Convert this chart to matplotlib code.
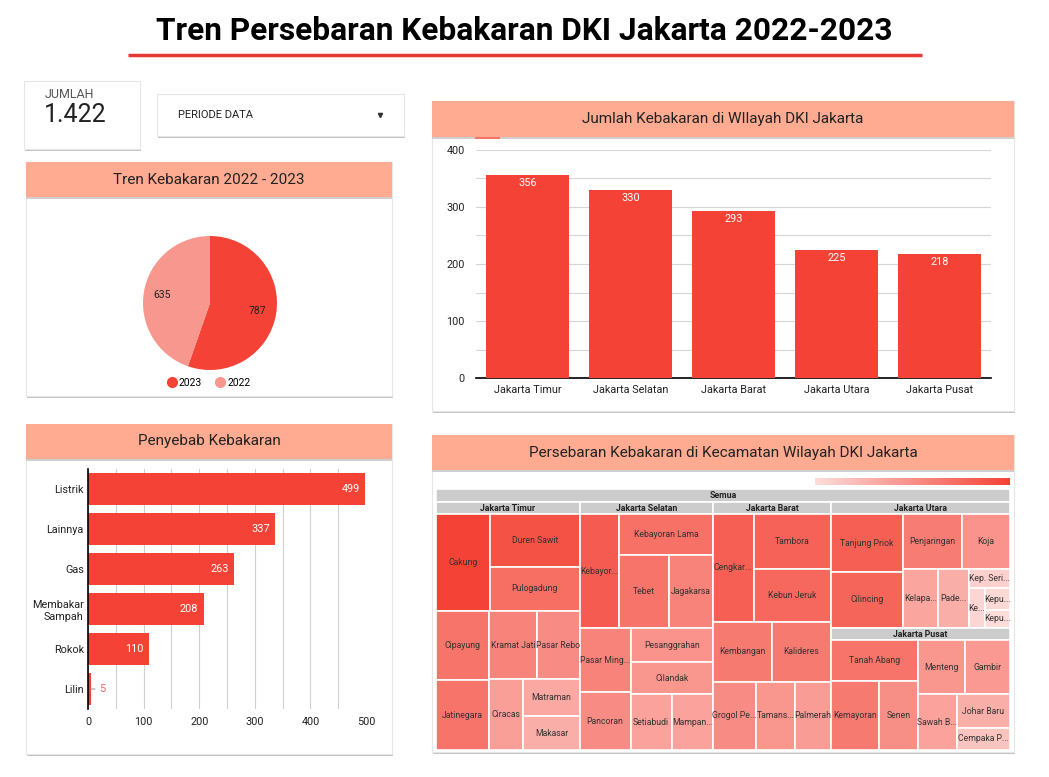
import numpy as np
import matplotlib
matplotlib.use("Agg")
import matplotlib.pyplot as plt
from matplotlib.patches import Rectangle
from matplotlib.lines import Line2D
from matplotlib.colors import LinearSegmentedColormap, Normalize

plt.rcParams['font.family'] = ['Roboto', 'DejaVu Sans']

# ---- data ----
judul = 'Tren Persebaran Kebakaran DKI Jakarta 2022-2023'
jumlah_total = '1.422'

tahun = ['2023', '2022']
jumlah_tahun = [787, 635]

wilayah = ['Jakarta Timur', 'Jakarta Selatan', 'Jakarta Barat', 'Jakarta Utara', 'Jakarta Pusat']
jumlah_wilayah = [356, 330, 293, 225, 218]

penyebab = ['Listrik', 'Lainnya', 'Gas', 'Membakar\nSampah', 'Rokok', 'Lilin']
jumlah_penyebab = [499, 337, 263, 208, 110, 5]

kec_timur = ['Cakung', 'Duren Sawit', 'Pulogadung', 'Cipayung', 'Jatinegara', 'Kramat Jati',
             'Pasar Rebo', 'Ciracas', 'Matraman', 'Makasar']
val_timur = [55, 50, 41, 39, 39, 34, 31, 25, 22, 20]
kec_selatan = ['Kebayoran Baru', 'Kebayoran Lama', 'Tebet', 'Jagakarsa', 'Pasar Minggu', 'Pancoran',
               'Pesanggrahan', 'Cilandak', 'Setiabudi', 'Mampang Prapatan']
val_selatan = [47, 40, 39, 34, 34, 31, 29, 28, 24, 24]
kec_barat = ['Cengkareng', 'Tambora', 'Kebun Jeruk', 'Kembangan', 'Kalideres', 'Grogol Petamburan',
             'Tamansari', 'Palmerah']
val_barat = [46, 45, 43, 37, 37, 31, 28, 26]
kec_utara = ['Tanjung Priok', 'Cilincing', 'Penjaringan', 'Koja', 'Kelapa Gading', 'Pademangan',
             'Kep. Seribu Utara', 'Kep. Seribu Selatan', 'Kepulauan Seribu Utara', 'Kepulauan Seribu Selatan']
val_utara = [46, 44, 36, 29, 23, 20, 9, 7, 6, 5]
kec_pusat = ['Tanah Abang', 'Kemayoran', 'Senen', 'Menteng', 'Gambir', 'Sawah Besar', 'Johar Baru',
             'Cempaka Putih']
val_pusat = [39, 37, 30, 28, 27, 24, 20, 13]

kec_names = [kec_timur, kec_selatan, kec_barat, kec_utara, kec_pusat]
kec_vals = [val_timur, val_selatan, val_barat, val_utara, val_pusat]

# ---- style ----
RED = '#F44336'
PINK = '#F8978D'
SALMON = '#FFAB91'

W, H = 1049, 777
fig = plt.figure(figsize=(W / 100, H / 100), dpi=100)
fig.patch.set_facecolor('white')


def fbox(x0, y0, x1, y1):
    return [x0 / W, 1 - y1 / H, (x1 - x0) / W, (y1 - y0) / H]


bg = fig.add_axes([0, 0, 1, 1])
bg.set_xlim(0, W)
bg.set_ylim(H, 0)
bg.axis('off')


def card(x0, y0, x1, y1):
    bg.add_patch(Rectangle((x0 + 0.5, y0 + 1.5), x1 - x0, y1 - y0, fc='#c4c4c4', ec='none', zorder=1))
    bg.add_patch(Rectangle((x0, y0), x1 - x0, y1 - y0, fc='white', ec='#e6e6e6', lw=0.8, zorder=2))


def header(x0, y0, x1, y1, title):
    bg.add_patch(Rectangle((x0, y0 + 1.5), x1 - x0, y1 - y0, fc='#d0d0d0', ec='none', zorder=3))
    bg.add_patch(Rectangle((x0, y0), x1 - x0, y1 - y0, fc=SALMON, ec='none', zorder=4))
    bg.text((x0 + x1) / 2, (y0 + y1) / 2, title, ha='center', va='center',
            fontsize=11, color='#222222', zorder=5)


# title
bg.text(524, 31, judul, ha='center', va='center', fontsize=22.8, fontweight='bold', color='black')
bg.plot([128, 922], [55, 55], color='#E53935', lw=2.5, solid_capstyle='butt')

# KPI cards
card(24, 81, 140, 149)
bg.text(45, 95, 'JUMLAH', ha='left', va='center', fontsize=9, color='#555555', zorder=5)
bg.text(44, 115, jumlah_total, ha='left', va='center', fontsize=18, color='#222222', zorder=5)
card(157, 94, 404, 136)
bg.text(178, 115, 'PERIODE DATA', ha='left', va='center', fontsize=8, color='#222222', zorder=5)
bg.plot([380], [115], marker='v', ms=3, color='#333333', zorder=5)

# panels
card(26, 162, 392, 396)
header(26, 162, 392, 197, 'Tren Kebakaran 2022 - 2023')
card(432, 101, 1014, 411)
header(432, 101, 1014, 137, 'Jumlah Kebakaran di WIlayah DKI Jakarta')
bg.plot([476, 499], [137.5, 137.5], color='#F4766A', lw=1.5, zorder=6)
card(26, 424, 392, 754)
header(26, 424, 392, 459, 'Penyebab Kebakaran')
card(432, 435, 1014, 752)
header(432, 435, 1014, 470, 'Persebaran Kebakaran di Kecamatan Wilayah DKI Jakarta')

# ---- pie ----
ax_p = fig.add_axes(fbox(143, 236, 277, 370))
tot = sum(jumlah_tahun)
ax_p.pie(jumlah_tahun, colors=[RED, PINK], startangle=90, counterclock=False,
         autopct=lambda p: f'{round(p * tot / 100)}', pctdistance=0.72,
         textprops=dict(fontsize=7.5, color='#222222'), wedgeprops=dict(linewidth=0))
ax_p.set_xlim(-1, 1)
ax_p.set_ylim(-1, 1)
handles = [Line2D([], [], marker='o', ls='', color=c, markersize=7) for c in [RED, PINK]]
fig.legend(handles, tahun, loc='center', bbox_to_anchor=(208 / W, 1 - 383 / H), ncol=2,
           frameon=False, fontsize=7.5, handletextpad=0.1, columnspacing=1.15, handlelength=1.2)

# ---- vertical bars ----
ax_b = fig.add_axes(fbox(476, 150, 991, 378))
ax_b.patch.set_alpha(0)
xb = np.arange(len(wilayah))
ax_b.bar(xb, jumlah_wilayah, width=0.81, color=RED, zorder=3)
for i, v in enumerate(jumlah_wilayah):
    ax_b.annotate(str(v), (i, v), xytext=(0, -2), textcoords='offset points', ha='center', va='top',
                  color='white', fontsize=7.8, zorder=4)
ax_b.set_xlim(-0.5, len(wilayah) - 0.5)
ax_b.set_ylim(0, 400)
ax_b.set_yticks([0, 100, 200, 300, 400])
ax_b.set_yticks([50, 150, 250, 350], minor=True)
ax_b.set_xticks(xb)
ax_b.set_xticklabels(wilayah)
ax_b.yaxis.grid(True, which='both', color='#d6d6d6', lw=0.8)
ax_b.set_axisbelow(True)
for s in ['top', 'right', 'left']:
    ax_b.spines[s].set_visible(False)
ax_b.spines['bottom'].set_color('black')
ax_b.spines['bottom'].set_linewidth(1.2)
ax_b.tick_params(axis='both', which='both', length=0, labelsize=7.8, colors='#222222')
ax_b.tick_params(axis='y', pad=8)
ax_b.tick_params(axis='x', pad=5)

# ---- horizontal bars ----
ax_h = fig.add_axes(fbox(88, 469, 366, 709))
ax_h.patch.set_alpha(0)
yh = np.arange(len(penyebab))
ax_h.barh(yh, jumlah_penyebab, height=0.82, color=RED, zorder=3)
for i, v in enumerate(jumlah_penyebab):
    if v > 40:
        ax_h.annotate(str(v), (v, i), xytext=(-4, 0), textcoords='offset points', ha='right',
                      va='center', color='white', fontsize=7.8, zorder=4)
    else:
        ax_h.annotate(str(v), (v, i), xytext=(6, 0), textcoords='offset points', ha='left',
                      va='center', color='#F4675B', fontsize=7.8, zorder=4,
                      arrowprops=dict(arrowstyle='-', color='#9e9e9e', lw=0.8, shrinkA=1, shrinkB=0))
ax_h.set_ylim(len(penyebab) - 0.5, -0.5)
ax_h.set_xlim(0, 500)
ax_h.set_yticks(yh)
ax_h.set_yticklabels(penyebab)
ax_h.set_xticks([0, 100, 200, 300, 400, 500])
ax_h.set_xticks([50, 150, 250, 350, 450], minor=True)
ax_h.xaxis.grid(True, which='both', color='#d0d0d0', lw=0.8)
ax_h.set_axisbelow(True)
for s in ['top', 'right', 'bottom']:
    ax_h.spines[s].set_visible(False)
ax_h.spines['left'].set_color('black')
ax_h.spines['left'].set_linewidth(1.2)
ax_h.spines['left'].set_zorder(5)
ax_h.tick_params(axis='both', which='both', length=0, labelsize=7.8, colors='#222222')
ax_h.tick_params(axis='y', pad=3)
ax_h.tick_params(axis='x', pad=6)

# ---- treemap ----
cmap = LinearSegmentedColormap.from_list('tm', ['#FDDCD9', RED])
all_vals = [v for vs in kec_vals for v in vs]
norm = Normalize(min(all_vals), max(all_vals))

ax_g = fig.add_axes(fbox(815, 478, 1010, 485))
ax_g.imshow(np.linspace(0, 1, 256)[None, :], aspect='auto', cmap=cmap)
ax_g.axis('off')

TW, TH = 574, 261
HH = 12.5
ax_t = fig.add_axes(fbox(436, 489, 1010, 750))
ax_t.set_xlim(0, TW)
ax_t.set_ylim(TH, 0)
ax_t.axis('off')
renderer = fig.canvas.get_renderer()


def split_layout(items, x, y, w, h, out):
    # binary split: first group = largest prefix whose sum stays within half
    if len(items) == 1:
        out.append((items[0], x, y, w, h))
        return
    total = sum(it[1] for it in items)
    k, cum = 1, items[0][1]
    while k < len(items) - 1 and cum + items[k][1] <= total / 2:
        cum += items[k][1]
        k += 1
    f = cum / total
    if w >= h:
        split_layout(items[:k], x, y, w * f, h, out)
        split_layout(items[k:], x + w * f, y, w * (1 - f), h, out)
    else:
        split_layout(items[:k], x, y, w, h * f, out)
        split_layout(items[k:], x, y + h * f, w, h * (1 - f), out)


def fit_label(x, y, w, txt, slack=0.0, **kw):
    t = ax_t.text(x, y, txt, ha='center', va='center', **kw)
    label = txt
    while t.get_window_extent(renderer).width > w + slack and len(label) > 1:
        label = label[:-1]
        t.set_text(label.rstrip() + '...')
    return t


def gray_header(x, y, w, h, txt):
    ax_t.add_patch(Rectangle((x, y), w, h, fc='#cccccc', ec='white', lw=1.2))
    fit_label(x + w / 2, y + h / 2 + 0.5, w, txt, fontsize=6.3, fontweight='bold', color='#222222')


gray_header(0, 0, TW, HH, 'Semua')
regions = []
split_layout(sorted(zip(wilayah, jumlah_wilayah), key=lambda it: -it[1]), 0, HH, TW, TH - HH, regions)
for (name, val), x, y, w, h in regions:
    gray_header(x, y, w, HH, name)
    i = wilayah.index(name)
    items = sorted(zip(kec_names[i], kec_vals[i]), key=lambda it: -it[1])
    leaves = []
    split_layout(items, x, y + HH, w, h - HH, leaves)
    for (kn, kv), lx, ly, lw, lh in leaves:
        ax_t.add_patch(Rectangle((lx, ly), lw, lh, fc=cmap(norm(kv)), ec='white', lw=1.2))
        fit_label(lx + lw / 2, ly + lh / 2, lw, kn, slack=1.5, fontsize=6.2, color='#333333')

fig.savefig('out.png', dpi=100, facecolor='white')
